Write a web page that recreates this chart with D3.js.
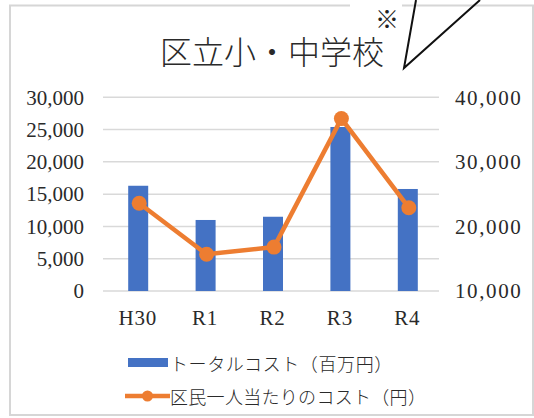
<!DOCTYPE html>
<html><head><meta charset="utf-8">
<script src="https://cdn.jsdelivr.net/npm/d3@7/dist/d3.min.js"></script>
<style>body{margin:0;background:#fff}svg{display:block}</style>
</head><body>
<svg id="c" width="534" height="418"></svg>
<script>
const categories = ["H30","R1","R2","R3","R4"];
const totalCost = [16300, 11000, 11500, 25400, 15800];
const perCapita = [23600, 15700, 16800, 36700, 22900];
const leftTicks = [0,5000,10000,15000,20000,25000,30000];
const rightTicks = [10000,20000,30000,40000];
const title = "区立小・中学校";
const legendLabels = ["トータルコスト（百万円）","区民一人当たりのコスト（円）"];

const svg = d3.select("#c");
const blue = "#4472C4", orange = "#ED7D31";
const serif = "'Liberation Serif','DejaVu Serif',serif";
const cjk = "'Noto Sans CJK JP',sans-serif";

// frame
svg.append("rect").attr("x",10).attr("y",5.5).attr("width",523).attr("height",409.5)
  .attr("fill","#fff").attr("stroke","#d6d6d6").attr("stroke-width",2);

const x = d3.scaleBand().domain(categories).range([104,441]);
const yL = d3.scaleLinear().domain([0,30000]).range([291,97.3]);
const yR = d3.scaleLinear().domain([10000,40000]).range([291,97.3]);

// gridlines
svg.append("g").selectAll("line").data(leftTicks).join("line")
  .attr("x1",103).attr("x2",439).attr("y1",d=>yL(d)).attr("y2",d=>yL(d))
  .attr("stroke","#d9d9d9").attr("stroke-width",1.5);

// left axis
const gl = svg.append("g").attr("transform","translate(84,0)")
  .call(d3.axisLeft(yL).tickValues(leftTicks).tickSize(0).tickPadding(0).tickFormat(d3.format(",")));
gl.select(".domain").remove();
gl.selectAll("text").attr("font-family",serif).attr("font-size",21).attr("fill","#2a2a2a");

// right axis
const gr = svg.append("g").attr("transform","translate(455,0)")
  .call(d3.axisRight(yR).tickValues(rightTicks).tickSize(0).tickPadding(0).tickFormat(d3.format(",")));
gr.select(".domain").remove();
gr.selectAll("text").attr("font-family",serif).attr("font-size",21).attr("fill","#2a2a2a").attr("letter-spacing","1.6px");

// bottom axis
const gb = svg.append("g").attr("transform","translate(0,307)")
  .call(d3.axisBottom(x).tickSize(0).tickPadding(0));
gb.select(".domain").remove();
gb.selectAll("text").attr("font-family",serif).attr("font-size",21).attr("fill","#2a2a2a")
  .attr("dy","0.85em").attr("letter-spacing","0.8px");

// bars
const bw = 20;
svg.append("g").selectAll("rect").data(totalCost).join("rect")
  .attr("x",(d,i)=>x(categories[i])+x.bandwidth()/2-bw/2+0.5)
  .attr("width",bw).attr("y",d=>yL(d)).attr("height",d=>yL(0)-yL(d)).attr("fill",blue);

// line
const line = d3.line().x((d,i)=>x(categories[i])+x.bandwidth()/2+1.5).y(d=>yR(d));
svg.append("path").datum(perCapita).attr("d",line).attr("fill","none")
  .attr("stroke",orange).attr("stroke-width",4.5).attr("stroke-linejoin","round");
svg.append("g").selectAll("circle").data(perCapita).join("circle")
  .attr("cx",(d,i)=>x(categories[i])+x.bandwidth()/2+1.5).attr("cy",d=>yR(d)).attr("r",7.5).attr("fill",orange);

// title
svg.append("text").attr("x",272).attr("y",50).attr("text-anchor","middle").attr("dominant-baseline","central")
  .attr("font-family",cjk).attr("font-size",32).attr("font-weight",300).attr("fill","#2a2a2a").text(title);

// legend
svg.append("rect").attr("x",128).attr("y",358).attr("width",40).attr("height",9).attr("fill",blue);
svg.append("text").attr("x",170).attr("y",362.5).attr("dominant-baseline","central")
  .attr("font-family",cjk).attr("font-size",18).attr("font-weight",300).attr("fill","#2a2a2a")
  .attr("letter-spacing","0.6px").text(legendLabels[0]);
svg.append("line").attr("x1",125).attr("x2",170).attr("y1",396).attr("y2",396).attr("stroke",orange).attr("stroke-width",4.5);
svg.append("circle").attr("cx",147.5).attr("cy",396).attr("r",5.5).attr("fill",orange);
svg.append("text").attr("x",170).attr("y",396).attr("dominant-baseline","central")
  .attr("font-family",cjk).attr("font-size",18).attr("font-weight",300).attr("fill","#2a2a2a")
  .attr("letter-spacing","0.3px").text(legendLabels[1]);

// callout overlay
svg.append("rect").attr("x",350).attr("y",0).attr("width",52).attr("height",30).attr("fill","#fff");
svg.append("text").attr("x",387).attr("y",17).attr("text-anchor","middle").attr("dominant-baseline","central")
  .attr("font-family",cjk).attr("font-size",24).attr("fill","#222").text("※");
svg.append("path").attr("d","M416,0 L404,68 L480,0").attr("fill","none").attr("stroke","#111").attr("stroke-width",2);
</script>
</body></html>
